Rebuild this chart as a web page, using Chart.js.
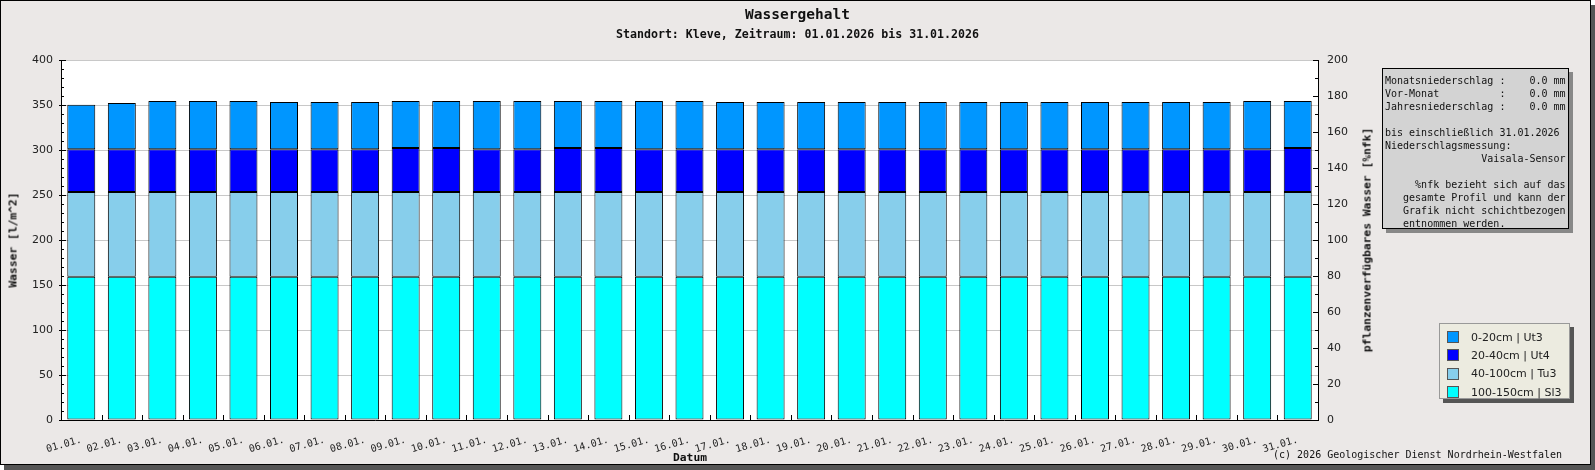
<!DOCTYPE html>
<html>
<head>
<meta charset="utf-8">
<script src="https://cdn.jsdelivr.net/npm/chart.js@4.4.1/dist/chart.umd.min.js"></script>
<style>
  html, body { margin: 0; padding: 0; background: #fff; }
  body { width: 1595px; height: 470px; position: relative; overflow: hidden; }
  #frame {
    position: absolute; left: 0; top: 0; width: 1589px; height: 463px;
    border: 1px solid #000; background: #ebe8e7; box-shadow: 4px 5px 0 #555;
  }
  #chart { position: absolute; left: 0; top: 0; }
  .txt { position: absolute; font-family: "DejaVu Sans Mono", monospace; color: #111; white-space: pre; }
  .bold { font-weight: bold; }
  #title { left: 0; width: 1595px; top: 6px; text-align: center; font-size: 14.5px; }
  #subtitle { left: 0; width: 1595px; top: 27px; text-align: center; font-size: 11.6px; }
  #ytitle { left: 13px; top: 240px; font-size: 11.3px; transform: translate(-50%, -50%) rotate(-90deg); }
  #y2title { left: 1367px; top: 240px; font-size: 11.3px; transform: translate(-50%, -50%) rotate(-90deg); }
  #xtitle { left: 690px; top: 457px; font-size: 11.3px; transform: translate(-50%, -50%); }
  #copy { right: 33px; top: 449px; font-size: 10px; }
  #info {
    position: absolute; left: 1382px; top: 68px; width: 187px; height: 161px;
    background: #d3d3d3; border: 1px solid #000; box-shadow: 4px 4px 0 #888;
    font-family: "DejaVu Sans Mono", monospace; font-size: 10px; line-height: 13px;
    white-space: pre; color: #111; padding: 5px 0 0 2px; box-sizing: border-box;
  }
  #legend {
    position: absolute; left: 1439px; top: 323px; width: 131px; height: 76px;
    background: #ecebe0; border: 1px solid #999; box-shadow: 4px 4px 0 #555;
    box-sizing: border-box; padding-top: 4px;
    font-family: "DejaVu Sans", sans-serif; font-size: 11px; color: #222;
  }
  .item { height: 18.3px; display: flex; align-items: center; padding-left: 7px; }
  .sw { width: 10px; height: 10px; border: 1px solid #555; margin-right: 12px; }
</style>
</head>
<body>
<div id="frame"></div>
<canvas id="chart" width="1595" height="470"></canvas>
<div id="title" class="txt bold">Wassergehalt</div>
<div id="subtitle" class="txt bold">Standort: Kleve, Zeitraum: 01.01.2026 bis 31.01.2026</div>
<div id="ytitle" class="txt bold">Wasser [l/m^2]</div>
<div id="y2title" class="txt bold">pflanzenverfügbares Wasser [%nfk]</div>
<div id="xtitle" class="txt bold">Datum</div>
<div id="copy" class="txt">(c) 2026 Geologischer Dienst Nordrhein-Westfalen</div>
<div id="info"></div>
<div id="legend"></div>
<script>
// Tage (Kategorien)
const days = ["01.01.", "02.01.", "03.01.", "04.01.", "05.01.", "06.01.", "07.01.", "08.01.",
  "09.01.", "10.01.", "11.01.", "12.01.", "13.01.", "14.01.", "15.01.", "16.01.", "17.01.",
  "18.01.", "19.01.", "20.01.", "21.01.", "22.01.", "23.01.", "24.01.", "25.01.", "26.01.",
  "27.01.", "28.01.", "29.01.", "30.01.", "31.01."];

// Wasser [l/m^2] je Schicht (von unten nach oben gestapelt)
const layer100_150 = [159.3, 159.3, 159.3, 159.3, 159.3, 159.3, 159.3, 159.3, 159.3, 159.3,
  159.3, 159.3, 159.3, 159.3, 159.3, 159.3, 159.3, 159.3, 159.3, 159.3, 159.3, 159.3, 159.3,
  159.3, 159.3, 159.3, 159.3, 159.3, 159.3, 159.3, 159.3];
const layer40_100 = [94.0, 94.0, 94.0, 94.0, 94.0, 94.0, 94.0, 94.0, 94.0, 94.0, 94.0, 94.0,
  94.0, 94.0, 94.0, 94.0, 94.0, 94.0, 94.0, 94.0, 94.0, 94.0, 94.0, 94.0, 94.0, 94.0, 94.0,
  94.0, 94.0, 94.0, 94.0];
const layer20_40 = [47.4, 47.4, 47.4, 47.4, 47.4, 47.4, 47.4, 47.4, 48.9, 48.9, 47.4, 47.4,
  48.9, 48.9, 47.4, 47.4, 47.4, 47.4, 47.4, 47.4, 47.4, 47.4, 47.4, 47.4, 47.4, 47.4, 47.4,
  47.4, 47.4, 47.4, 48.9];
const layer0_20 = [49.7, 51.5, 53.8, 53.8, 53.8, 52.7, 52.7, 52.7, 52.3, 52.3, 53.8, 53.8,
  52.3, 52.3, 53.8, 53.8, 52.7, 52.7, 52.7, 52.7, 52.7, 52.7, 52.7, 52.7, 52.7, 52.7, 52.7,
  52.7, 52.7, 53.8, 52.3];

const infoLines = [
  "Monatsniederschlag :    0.0 mm",
  "Vor-Monat          :    0.0 mm",
  "Jahresniederschlag :    0.0 mm",
  "",
  "bis einschließlich 31.01.2026",
  "Niederschlagsmessung:",
  "                Vaisala-Sensor",
  "",
  "     %nfk bezieht sich auf das",
  "   gesamte Profil und kann der",
  "   Grafik nicht schichtbezogen",
  "   entnommen werden.",
];

const datasets = [
  { label: "100-150cm | Sl3", data: layer100_150, backgroundColor: "#00ffff" },
  { label: "40-100cm | Tu3", data: layer40_100, backgroundColor: "#87ceeb" },
  { label: "20-40cm | Ut4", data: layer20_40, backgroundColor: "#0000ff" },
  { label: "0-20cm | Ut3", data: layer0_20, backgroundColor: "#0096ff" },
].map((d) => ({
  ...d,
  borderColor: "#000",
  borderWidth: 1,
  borderSkipped: false,
  categoryPercentage: 1,
  barPercentage: 0.69,
}));

// weisse Zeichenflaeche
const plotBackground = {
  id: "plotBackground",
  beforeDraw(chart) {
    const { ctx, chartArea: a } = chart;
    ctx.save();
    ctx.fillStyle = "#fff";
    ctx.fillRect(a.left, a.top, a.right - a.left, a.bottom - a.top);
    ctx.restore();
  },
};

// kleine Teilstriche an den Achsen
const axisTicks = {
  id: "axisTicks",
  afterDraw(chart) {
    const { ctx, chartArea: a, scales } = chart;
    ctx.save();
    ctx.strokeStyle = "#000";
    ctx.lineWidth = 1;
    ctx.beginPath();
    for (let v = 0; v <= 400; v += 10) {
      const y = Math.round(scales.y.getPixelForValue(v)) + 0.5;
      const major = v % 50 === 0;
      ctx.moveTo(a.left - (major ? 2 : 0), y);
      ctx.lineTo(a.left + (major ? 5 : 3), y);
    }
    for (let v = 0; v <= 200; v += 10) {
      const y = Math.round(scales.y2.getPixelForValue(v)) + 0.5;
      const major = v % 20 === 0;
      ctx.moveTo(a.right - (major ? 5 : 3), y);
      ctx.lineTo(a.right + (major ? 1 : 0), y);
    }
    for (let i = 1; i < days.length; i++) {
      const x = Math.round((scales.x.getPixelForValue(i - 1) + scales.x.getPixelForValue(i)) / 2) + 0.5;
      ctx.moveTo(x, a.bottom);
      ctx.lineTo(x, a.bottom - 5);
    }
    ctx.stroke();
    ctx.restore();
  },
};

const tickFont = { family: "DejaVu Sans", size: 11 };

const chart = new Chart(document.getElementById("chart"), {
  type: "bar",
  data: { labels: days, datasets },
  options: {
    responsive: false,
    animation: false,
    layout: { padding: { top: 60, left: 0, right: 0, bottom: 0 } },
    plugins: { legend: { display: false }, tooltip: { enabled: false } },
    scales: {
      x: {
        stacked: true,
        grid: { display: false },
        border: { color: "#000" },
        ticks: {
          font: { family: "DejaVu Sans Mono", size: 10 },
          color: "#222",
          minRotation: 16,
          maxRotation: 16,
          autoSkip: false,
          padding: 6,
        },
        afterFit: (s) => { s.height = 50; },
      },
      y: {
        stacked: true,
        position: "left",
        min: 0,
        max: 400,
        ticks: { stepSize: 50, font: tickFont, color: "#222", padding: 8 },
        grid: { color: "#c8c8c8", drawTicks: false },
        border: { color: "#000" },
        afterFit: (s) => { s.width = 61; },
      },
      y2: {
        position: "right",
        min: 0,
        max: 200,
        ticks: { stepSize: 20, font: tickFont, color: "#222", padding: 9 },
        grid: { drawOnChartArea: false, drawTicks: false },
        border: { color: "#000" },
        afterFit: (s) => { s.width = 277; },
      },
    },
  },
  plugins: [plotBackground, axisTicks],
});

// Info-Kasten
document.getElementById("info").textContent = infoLines.join("\n");

// Legende (oberste Schicht zuerst)
const legend = document.getElementById("legend");
[...datasets].reverse().forEach((d) => {
  const item = document.createElement("div");
  item.className = "item";
  const sw = document.createElement("div");
  sw.className = "sw";
  sw.style.background = d.backgroundColor;
  item.appendChild(sw);
  const label = document.createElement("span");
  label.textContent = d.label;
  item.appendChild(label);
  legend.appendChild(item);
});
</script>
</body>
</html>
